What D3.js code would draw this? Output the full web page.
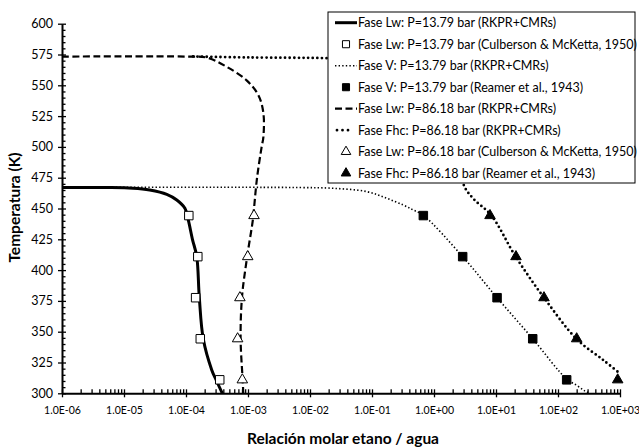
<!DOCTYPE html>
<html>
<head>
<meta charset="utf-8">
<script src="https://cdn.jsdelivr.net/npm/d3@7"></script>
<style>
  body { margin: 0; background: #fff; }
  svg { display: block; }
  text { font-family: Lato, "Liberation Sans", sans-serif; fill: #000; }
</style>
</head>
<body>
<svg id="chart" width="639" height="447"></svg>
<script>
// ---- data: [etano/agua molar ratio, temperature K] ----
// model curves (RKPR+CMRs)
const lw1379Model = [
  [1e-6, 467.0], [5e-6, 467.0], [1.4e-5, 466.5], [2.6e-5, 465.0], [4.9e-5, 461.5],
  [7.1e-5, 456.9], [9.6e-5, 450.2], [1.09e-4, 440.5], [1.27e-4, 425.0], [1.49e-4, 411.0],
  [1.64e-4, 377.6], [1.9e-4, 344.0], [2.6e-4, 319.0], [3.05e-4, 311.0], [3.85e-4, 300.0]
];
const v1379Model = [
  [1e-6, 467.2], [1e-3, 467.2], [6.9e-3, 467.0], [0.0238, 466.4], [0.0822, 463.7],
  [0.1726, 458.3], [0.32, 452.8], [0.463, 448.8], [0.673, 444.5],
  [2.9, 410.9], [10.4, 377.6], [39.1, 344.3], [138, 311.5],
  [200, 306.5], [270, 302.0], [330, 300.0]
];
const lw8618Model = [
  [1e-6, 573.3], [1e-4, 573.3], [2.18e-4, 572.5], [4.53e-4, 565.0], [9.5e-4, 554.0],
  [1.47e-3, 542.0], [1.77e-3, 527.5], [1.77e-3, 508.0], [1.66e-3, 500.0], [1.4e-3, 475.0],
  [1.25e-3, 450.0], [1.2e-3, 441.0], [9.7e-4, 411.0], [8.0e-4, 378.0], [7.6e-4, 344.0],
  [8.2e-4, 311.0], [8.4e-4, 300.0]
];
const fhc8618Model = [
  [1.3e-4, 573.4], [1e-3, 572.6], [0.02, 572.0], [0.1, 570.5], [0.5, 565.0],
  [1.2, 553.0], [2.0, 530.0], [2.6, 500.0], [3.0, 469.5], [4.3, 458.0],
  [8.3, 444.7], [21, 410.5], [59.4, 377.6], [200, 344.0], [537, 327.0], [1000, 316.0]
];
// experimental points
const lw1379Culberson = [[1.11e-4, 444.26], [1.55e-4, 410.93], [1.43e-4, 377.59], [1.70e-4, 344.26], [3.5e-4, 310.93]];
const v1379Reamer = [[0.673, 444.26], [2.90, 410.93], [10.4, 377.59], [39.1, 344.26], [138, 310.93]];
const lw8618Culberson = [[1.25e-3, 444.26], [9.9e-4, 410.93], [7.4e-4, 377.59], [6.8e-4, 344.26], [8.1e-4, 310.93]];
const fhc8618Reamer = [[8.0, 444.26], [21, 410.93], [59.4, 377.59], [200, 344.26], [918, 310.93]];

// axes
const xMajor = [1e-6, 1e-5, 1e-4, 1e-3, 1e-2, 1e-1, 1e0, 1e1, 1e2, 1e3];
const xTickLabels = ["1.0E-06", "1.0E-05", "1.0E-04", "1.0E-03", "1.0E-02", "1.0E-01", "1.0E+00", "1.0E+01", "1.0E+02", "1.0E+03"];
const yMajor = [300, 325, 350, 375, 400, 425, 450, 475, 500, 525, 550, 575, 600];
const xTitle = "Relación molar etano / agua";
const yTitle = "Temperatura (K)";

const legendLabels = [
  "Fase Lw: P=13.79 bar (RKPR+CMRs)",
  "Fase Lw: P=13.79 bar (Culberson & McKetta, 1950)",
  "Fase V: P=13.79 bar (RKPR+CMRs)",
  "Fase V: P=13.79 bar (Reamer et al., 1943)",
  "Fase Lw: P=86.18 bar (RKPR+CMRs)",
  "Fase Fhc: P=86.18 bar (RKPR+CMRs)",
  "Fase Lw: P=86.18 bar (Culberson & McKetta, 1950)",
  "Fase Fhc: P=86.18 bar (Reamer et al., 1943)"
];

// ---- drawing ----
const svg = d3.select("#chart");
const plot = { left: 62, right: 620, top: 23.7, bottom: 393.3 };

const x = d3.scaleLog().domain([1e-6, 1e3]).range([plot.left, plot.right]);
const y = d3.scaleLinear().domain([300, 600]).range([plot.bottom, plot.top]);

svg.append("rect").attr("width", 639).attr("height", 447).attr("fill", "#fff");

// line styles
const lineStyles = {
  solid:  { width: 3,   dash: null,      cap: "butt" },
  fine:   { width: 1.6, dash: "1.4,2.2", cap: "butt" },
  dashed: { width: 2.2, dash: "7,3.5",   cap: "butt" },
  heavy:  { width: 2.8, dash: "0,4.6",   cap: "round" }
};

svg.append("clipPath").attr("id", "plotClip")
  .append("rect")
  .attr("x", plot.left).attr("y", plot.top - 5)
  .attr("width", plot.right - plot.left + 3).attr("height", plot.bottom - plot.top + 5);

const line = d3.line()
  .x(d => x(d[0]))
  .y(d => y(d[1]))
  .curve(d3.curveCatmullRom.alpha(0.5));

const series = svg.append("g").attr("clip-path", "url(#plotClip)");

function drawLine(data, style) {
  const s = lineStyles[style];
  series.append("path")
    .datum(data)
    .attr("d", line)
    .attr("fill", "none")
    .attr("stroke", "#000")
    .attr("stroke-width", s.width)
    .attr("stroke-dasharray", s.dash)
    .attr("stroke-linecap", s.cap)
    .attr("stroke-linejoin", "round");
}

drawLine(v1379Model, "fine");
drawLine(fhc8618Model, "heavy");
drawLine(lw8618Model, "dashed");
drawLine(lw1379Model, "solid");

// markers
const squareSym = d3.symbol().type(d3.symbolSquare).size(72);
const triSym = d3.symbol().type(d3.symbolTriangle).size(48);

function drawMarkers(data, sym, filled) {
  svg.append("g").selectAll("path")
    .data(data)
    .join("path")
    .attr("d", sym)
    .attr("transform", d => `translate(${x(d[0])},${y(d[1])})`)
    .attr("fill", filled ? "#000" : "#fff")
    .attr("stroke", "#000")
    .attr("stroke-width", 1);
}

drawMarkers(lw1379Culberson, squareSym, false);
drawMarkers(v1379Reamer, squareSym, true);
drawMarkers(lw8618Culberson, triSym, false);
drawMarkers(fhc8618Reamer, triSym, true);

// x axis
const xMinor = [];
for (let e = -6; e < 3; e++) for (let m = 2; m <= 9; m++) xMinor.push(m * Math.pow(10, e));

const gxMinor = svg.append("g")
  .attr("transform", `translate(0,${plot.bottom})`)
  .call(d3.axisBottom(x).tickValues(xMinor).tickSize(-4).tickFormat(""));
gxMinor.select(".domain").remove();

const gx = svg.append("g")
  .attr("transform", `translate(0,${plot.bottom})`)
  .call(d3.axisBottom(x).tickValues(xMajor).tickSizeOuter(0)
    .tickFormat((d, i) => xTickLabels[i]));
gx.selectAll(".tick line").attr("y1", -4).attr("y2", 4);
gx.selectAll(".tick text").attr("y", 13).attr("font-size", 10.5).attr("font-family", "Lato");

// y axis
const yMinor = d3.range(305, 600, 5).filter(v => v % 25 !== 0);
const gyMinor = svg.append("g")
  .attr("transform", `translate(${plot.left},0)`)
  .call(d3.axisLeft(y).tickValues(yMinor).tickSize(-3.5).tickFormat(""));
gyMinor.select(".domain").remove();

const gy = svg.append("g")
  .attr("transform", `translate(${plot.left},0)`)
  .call(d3.axisLeft(y).tickValues(yMajor).tickSizeOuter(0).tickFormat(d3.format("d")));
gy.selectAll(".tick line").attr("x1", -4).attr("x2", 4);
gy.selectAll(".tick text").attr("x", -9).attr("font-size", 12.5).attr("font-family", "Lato");

svg.selectAll(".domain").attr("stroke-width", 2);
svg.selectAll(".tick line").attr("stroke-width", 1.3);

// axis titles
svg.append("text")
  .attr("x", 343).attr("y", 439)
  .attr("dy", "0.35em")
  .attr("text-anchor", "middle")
  .attr("font-weight", "bold")
  .attr("font-size", 15.5)
  .text(xTitle);

svg.append("text")
  .attr("transform", "translate(15,207.5) rotate(-90)")
  .attr("dy", "0.35em")
  .attr("text-anchor", "middle")
  .attr("font-weight", "bold")
  .attr("font-size", 15.5)
  .text(yTitle);

// legend
const legend = svg.append("g");
legend.append("rect")
  .attr("x", 328).attr("y", 12)
  .attr("width", 307).attr("height", 171)
  .attr("fill", "#fff").attr("stroke", "#000").attr("stroke-width", 1);

const legendKeys = [
  { kind: "line", style: "solid" },
  { kind: "marker", sym: squareSym, filled: false },
  { kind: "line", style: "fine" },
  { kind: "marker", sym: squareSym, filled: true },
  { kind: "line", style: "dashed" },
  { kind: "line", style: "heavy" },
  { kind: "marker", sym: triSym, filled: false },
  { kind: "marker", sym: triSym, filled: true }
];

legendLabels.forEach((label, i) => {
  const cy = 22.7 + i * 21.5;
  const k = legendKeys[i];
  if (k.kind === "line") {
    const s = lineStyles[k.style];
    const heavy = k.style === "heavy";
    legend.append("line")
      .attr("x1", heavy ? 337 : 335).attr("x2", heavy ? 349 : 357)
      .attr("y1", cy).attr("y2", cy)
      .attr("stroke", "#000")
      .attr("stroke-width", s.width)
      .attr("stroke-dasharray", heavy ? "0,5.5" : s.dash)
      .attr("stroke-linecap", s.cap);
  } else {
    legend.append("path")
      .attr("d", k.sym.size(k.sym === squareSym ? 50 : 40)())
      .attr("transform", `translate(346,${cy})`)
      .attr("fill", k.filled ? "#000" : "#fff")
      .attr("stroke", "#000").attr("stroke-width", 1);
  }
  legend.append("text")
    .attr("x", 358).attr("y", cy)
    .attr("dy", "0.35em")
    .attr("font-size", 12.5)
    .text(label);
});
</script>
</body>
</html>
